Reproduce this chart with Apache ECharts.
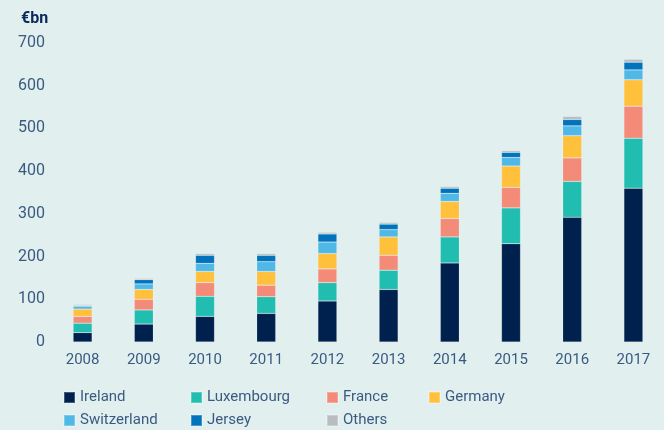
<!DOCTYPE html>
<html><head><meta charset="utf-8">
<script src="https://cdn.jsdelivr.net/npm/echarts@6/dist/echarts.min.js"></script>
<style>html,body{margin:0;padding:0;background:#e1f0ef}#c{width:664px;height:430px}</style>
</head><body><div id="c"></div>
<script>
const years = ['2008','2009','2010','2011','2012','2013','2014','2015','2016','2017'];
const ireland     = [22, 42, 60, 67, 96, 123, 185, 230, 292, 360];
const luxembourg  = [22, 33, 47, 39, 43, 45, 61, 84, 84, 117];
const france      = [16, 25, 32, 27, 32, 35, 43, 48, 55, 75];
const germany     = [17, 23, 26, 32, 36, 43, 40, 50, 52, 62];
const switzerland = [7, 13, 19, 23, 27, 17, 19, 20, 23, 23];
const jersey      = [1, 10, 19, 15, 19, 13, 12, 12, 15, 18];
const others      = [3, 3, 4, 4, 4, 4, 4, 4, 7, 7];
const yTicks = [0,100,200,300,400,500,600,700];

const names = ['Ireland','Luxembourg','France','Germany','Switzerland','Jersey','Others'];
const colors = ['#00204e','#21bdb0','#f48a78','#ffc13b','#4fb8e6','#0073bc','#b9bcc0'];
const datas = [ireland,luxembourg,france,germany,switzerland,jersey,others];
const txt = '#3b5a82';
const font = 'Roboto';

const chart = echarts.init(document.getElementById('c'));
const legendPos = [[58,385],[185,385],[321,385],[423,385],[58,408],[185,408],[321,408]];
chart.setOption({
  backgroundColor: '#e1f0ef',
  animation: false,
  textStyle: {fontFamily: font},
  title: {text: '€bn', left: 16, top: 6, textStyle: {fontSize: 16, fontWeight: 'bold', color: '#0b2a5b', fontFamily: font}},
  grid: {left: 52, right: 0, top: 43, bottom: 88},
  legend: names.map((n,i) => ({
    left: legendPos[i][0], top: legendPos[i][1], itemWidth: 11, itemHeight: 11,
    icon: 'rect', data: [n],
    textStyle: {fontSize: 15, color: txt, fontFamily: font}
  })),
  xAxis: {type: 'category', data: years, axisLine: {show: false}, axisTick: {show: false},
    axisLabel: {fontSize: 15, color: txt, margin: 11}},
  yAxis: {type: 'value', min: 0, max: 700, interval: 100, splitLine: {show: false},
    axisLabel: {fontSize: 16, color: txt, margin: 7, formatter: v => yTicks.includes(v) ? String(v) : ''}},
  series: datas.map((d,i) => ({
    name: names[i], type: 'bar', stack: 'a', data: d, barWidth: 19,
    itemStyle: {color: colors[i], borderColor: 'rgba(255,255,255,0.25)', borderWidth: 0.6}
  }))
});
</script></body></html>
